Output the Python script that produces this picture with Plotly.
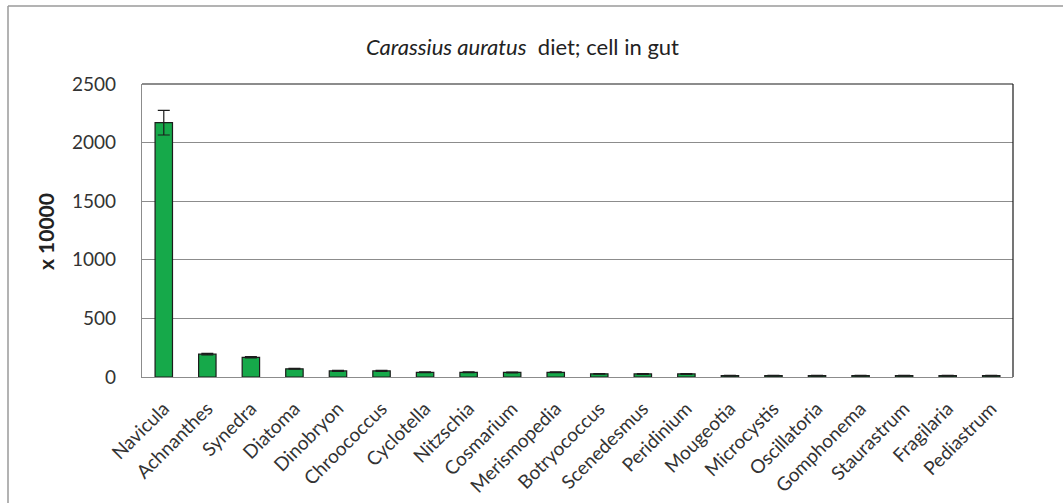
import plotly.graph_objects as go

# Gut content of Carassius auratus: cell counts (x 10000) per genus
genera = [
    "Navicula", "Achnanthes", "Synedra", "Diatoma", "Dinobryon", "Chroococcus",
    "Cyclotella", "Nitzschia", "Cosmarium", "Merismopedia", "Botryococcus",
    "Scenedesmus", "Peridinium", "Mougeotia", "Microcystis", "Oscillatoria",
    "Gomphonema", "Staurastrum", "Fragilaria", "Pediastrum",
]
cells = [2170, 195, 168, 70, 52, 52, 40, 40, 39, 40, 27, 26, 26,
         12, 12, 12, 12, 12, 12, 12]
cells_err = [105, 6, 6, 4, 4, 4, 3, 3, 3, 3, 3, 3, 3,
             2, 2, 2, 2, 2, 2, 2]
y_ticks = [0, 500, 1000, 1500, 2000, 2500]

W, H = 1063, 503
L, R, T, B = 142, 50, 84, 126
pw, ph = W - L - R, H - T - B


def px(x):
    return (x - L) / pw


def py(y):
    return (H - B - y) / ph


FONT = "Lato"
TXT = "#333333"

fig = go.Figure(
    go.Bar(
        x=genera,
        y=cells,
        width=0.4,
        marker=dict(color="#16A94A", line=dict(color="#1c1c1c", width=1.2)),
        error_y=dict(type="data", array=cells_err, visible=True,
                     color="#1c1c1c", thickness=1.2, width=6),
    )
)

shapes = [
    # outer chart frame (top and left edges)
    dict(type="line", xref="paper", yref="paper", x0=px(8), x1=px(W + 5),
         y0=py(6), y1=py(6), line=dict(color="#9a9a9a", width=1.5)),
    dict(type="line", xref="paper", yref="paper", x0=px(8), x1=px(8),
         y0=py(6), y1=py(H + 5), line=dict(color="#9a9a9a", width=1.5)),
    # plot area frame, top and right
    dict(type="line", xref="paper", yref="paper", x0=0, x1=1, y0=1, y1=1,
         line=dict(color="#1a1a1a", width=1.2)),
    dict(type="line", xref="paper", yref="paper", x0=1, x1=1, y0=0, y1=1,
         line=dict(color="#1a1a1a", width=1.2)),
]

annotations = [
    dict(text="<i>Carassius auratus</i>  diet; cell in gut", xref="paper",
         yref="paper", x=px(522), y=py(46), showarrow=False,
         xanchor="center", yanchor="middle",
         font=dict(family=FONT, size=22, color="#222222")),
    dict(text="<b>x 10000</b>", xref="paper", yref="paper", x=px(45),
         y=py(232), showarrow=False, textangle=-90, xanchor="center",
         yanchor="middle", font=dict(family=FONT, size=21, color="#222222")),
]

fig.update_layout(
    width=W, height=H,
    margin=dict(l=L, r=R, t=T, b=B, pad=0, autoexpand=False),
    paper_bgcolor="white", plot_bgcolor="white",
    showlegend=False,
    shapes=shapes,
    annotations=annotations,
    xaxis=dict(
        tickangle=-45, showgrid=False, showline=True, linecolor="#8c8c8c",
        linewidth=1.2, ticks="", ticklabelstandoff=12, automargin=False,
        tickfont=dict(family=FONT, size=19, color=TXT),
    ),
    yaxis=dict(
        range=[0, 2500], tickvals=y_ticks, showgrid=True, gridcolor="#8c8c8c",
        gridwidth=1, showline=True, linecolor="#8c8c8c", linewidth=1.2,
        zeroline=False, ticks="", ticklabelstandoff=21, automargin=False,
        tickfont=dict(family=FONT, size=19, color=TXT),
    ),
)

fig.write_html("out.html")
